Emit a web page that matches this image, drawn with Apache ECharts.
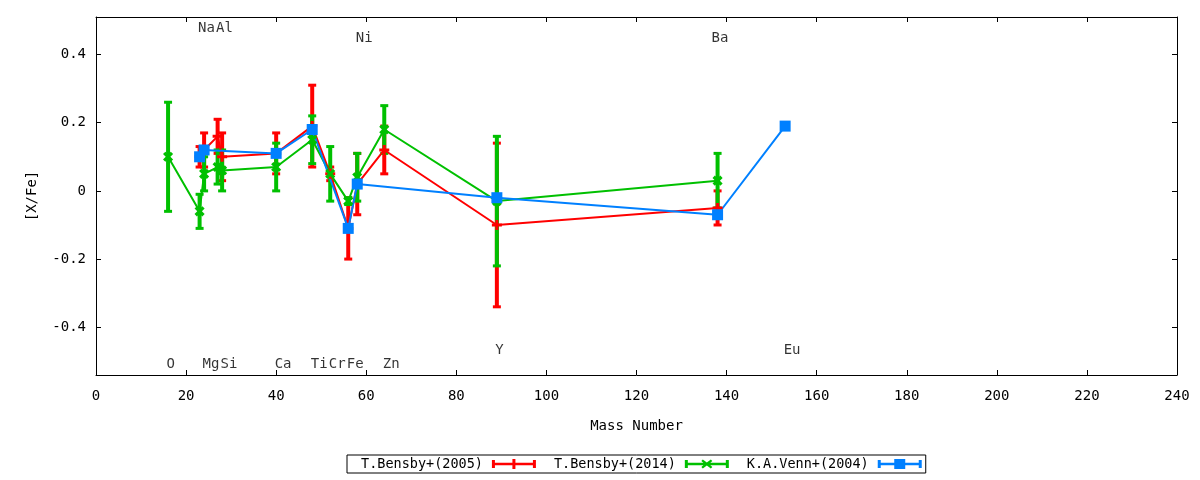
<!DOCTYPE html>
<html style="height: 100%">
<head>
<meta charset="utf-8">
<script src="https://cdn.jsdelivr.net/npm/echarts@6/dist/echarts.min.js"></script>
</head>
<body style="height: 100%; margin: 0; background: #fff">
<div id="container" style="width: 1200px; height: 480px"></div>
<script>
// T.Bensby+(2005): mass number, [X/Fe], error
var bensby05Mass = [23, 24, 27, 28, 40, 48, 52, 56, 58, 64, 89, 138];
var bensby05Val  = [0.10, 0.12, 0.16, 0.10, 0.11, 0.19, 0.05, -0.11, 0.02, 0.12, -0.10, -0.05];
var bensby05Err  = [0.03, 0.05, 0.05, 0.07, 0.06, 0.12, 0.02, 0.09, 0.09, 0.07, 0.24, 0.05];

// T.Bensby+(2014)
var bensby14Mass = [16, 23, 24, 27, 28, 40, 48, 52, 56, 58, 64, 89, 138];
var bensby14Val  = [0.10, -0.06, 0.05, 0.07, 0.06, 0.07, 0.15, 0.05, -0.03, 0.04, 0.18, -0.03, 0.03];
var bensby14Err  = [0.16, 0.05, 0.05, 0.05, 0.06, 0.07, 0.07, 0.08, 0.01, 0.07, 0.07, 0.19, 0.08];

// K.A.Venn+(2004)
var vennMass = [23, 24, 40, 48, 56, 58, 89, 138, 153];
var vennVal  = [0.10, 0.12, 0.11, 0.18, -0.11, 0.02, -0.02, -0.07, 0.19];
var vennErr  = [0, 0, 0, 0, 0, 0, 0, 0, 0];

// element labels: name, mass number, [X/Fe] position
var elemNames = ['Na', 'Al', 'Ni', 'Ba', 'O', 'Mg', 'Si', 'Ca', 'Ti', 'Cr', 'Fe', 'Zn', 'Y', 'Eu'];
var elemMass  = [23, 27, 58, 137, 16, 24, 28, 40, 48, 52, 56, 64, 89, 153];
var elemPos   = [0.48, 0.48, 0.45, 0.45, -0.505, -0.505, -0.505, -0.505, -0.505, -0.505, -0.505, -0.505, -0.465, -0.465];

var yTicks = [-0.4, -0.2, 0, 0.2, 0.4];

var FONT = 'DejaVu Sans Mono';
var RED = '#ff0000', GREEN = '#00c000', BLUE = '#0080ff';

function points(mass, val) {
    return mass.map(function (m, i) { return [m, val[i]]; });
}
function bars(mass, val, err) {
    return mass.map(function (m, i) { return [m, val[i] - err[i], val[i] + err[i]]; });
}

function renderErr(params, api) {
    var x = api.value(0);
    var lo = api.coord([x, api.value(1)]);
    var hi = api.coord([x, api.value(2)]);
    var color = api.visual('color');
    var cw = 4;
    return {
        type: 'group',
        children: [
            {type: 'line', shape: {x1: lo[0], y1: lo[1], x2: hi[0], y2: hi[1]}, style: {stroke: color, lineWidth: 4}},
            {type: 'line', shape: {x1: hi[0] - cw, y1: hi[1], x2: hi[0] + cw, y2: hi[1]}, style: {stroke: color, lineWidth: 3}},
            {type: 'line', shape: {x1: lo[0] - cw, y1: lo[1], x2: lo[0] + cw, y2: lo[1]}, style: {stroke: color, lineWidth: 3}}
        ]
    };
}

var plusPath = 'path://M3.5,0h3v3.5h3.5v3h-3.5v3.5h-3v-3.5h-3.5v-3h3.5z';
var capsPath = 'M0,1h3v8h-3z M41,1h3v8h-3z M0,3.8h44v2.4h-44z ';
var iconRed = 'path://' + capsPath + 'M20.5,0h3v10h-3z';
var iconGreen = 'path://' + capsPath + 'M18,0.5L22,3.5L26,0.5L27.5,2L24,5L27.5,8L26,9.5L22,6.5L18,9.5L16.5,8L20,5L16.5,2Z';
var iconBlue = 'path://' + capsPath + 'M16.5,0h11v10h-11z';

function errSeries(name, color, data) {
    return {
        name: name, type: 'custom', renderItem: renderErr,
        itemStyle: {color: color}, data: data, silent: true
    };
}
function lineSeries(name, color, data, symbol, size, rotate) {
    return {
        name: name, type: 'line', data: data,
        symbol: symbol, symbolSize: size, symbolRotate: rotate || 0,
        showAllSymbol: true,
        itemStyle: {color: color, borderWidth: 0},
        lineStyle: {color: color, width: 2}
    };
}

var axisText = {color: '#000', fontFamily: FONT, fontSize: 14};
var blackLine = {show: true, onZero: false, lineStyle: {color: '#000', width: 1}};
var inTick = {show: true, inside: true, length: 5, lineStyle: {color: '#000'}};

var option = {
    animation: false,
    backgroundColor: '#fff',
    grid: {left: 96, right: 23, top: 17, bottom: 105},
    legend: {
        left: 347, top: 455,
        align: 'right',
        itemWidth: 44, itemHeight: 10, itemGap: 18,
        borderColor: '#000', borderWidth: 1, borderRadius: 0,
        padding: [2, 4, 2, 14],
        itemStyle: {borderWidth: 0},
        textStyle: {color: '#000', fontFamily: FONT, fontSize: 13.5, padding: [0, 4, 0, 0]},
        data: [
            {name: 'T.Bensby+(2005)', icon: iconRed},
            {name: 'T.Bensby+(2014)', icon: iconGreen},
            {name: 'K.A.Venn+(2004)', icon: iconBlue}
        ]
    },
    xAxis: [{
        type: 'value', min: 0, max: 240, interval: 20,
        name: 'Mass Number', nameLocation: 'middle', nameGap: 44,
        nameTextStyle: axisText,
        axisLine: blackLine, axisTick: inTick,
        axisLabel: Object.assign({margin: 14}, axisText),
        splitLine: {show: false}
    }, {
        type: 'value', min: 0, max: 240, interval: 20, position: 'top',
        axisLine: blackLine, axisTick: inTick,
        axisLabel: {show: false}, splitLine: {show: false}
    }],
    yAxis: [{
        type: 'value', min: -0.54, max: 0.51,
        name: '[X/Fe]', nameLocation: 'middle', nameGap: 57, nameRotate: 90,
        nameTextStyle: axisText,
        axisLine: blackLine,
        axisTick: Object.assign({customValues: yTicks}, inTick),
        axisLabel: Object.assign({margin: 10, customValues: yTicks}, axisText),
        splitLine: {show: false}
    }, {
        type: 'value', min: -0.54, max: 0.51, position: 'right',
        axisLine: blackLine,
        axisTick: Object.assign({customValues: yTicks}, inTick),
        axisLabel: {show: false}, splitLine: {show: false}
    }],
    series: [
        errSeries('T.Bensby+(2005)', RED, bars(bensby05Mass, bensby05Val, bensby05Err)),
        lineSeries('T.Bensby+(2005)', RED, points(bensby05Mass, bensby05Val), plusPath, 10),
        errSeries('T.Bensby+(2014)', GREEN, bars(bensby14Mass, bensby14Val, bensby14Err)),
        lineSeries('T.Bensby+(2014)', GREEN, points(bensby14Mass, bensby14Val), plusPath, 11, 45),
        errSeries('K.A.Venn+(2004)', BLUE, bars(vennMass, vennVal, vennErr)),
        lineSeries('K.A.Venn+(2004)', BLUE, points(vennMass, vennVal), 'rect', 11),
        {
            name: 'elements', type: 'scatter', silent: true,
            symbolSize: 1, itemStyle: {color: 'rgba(0,0,0,0)'},
            data: elemNames.map(function (n, i) { return {name: n, value: [elemMass[i], elemPos[i]]}; }),
            label: {
                show: true, position: 'right', distance: 0, offset: [-2, 1],
                formatter: '{b}', color: '#000', fontFamily: FONT, fontSize: 14
            }
        }
    ]
};

var chart = echarts.init(document.getElementById('container'));
chart.setOption(option);
</script>
</body>
</html>
